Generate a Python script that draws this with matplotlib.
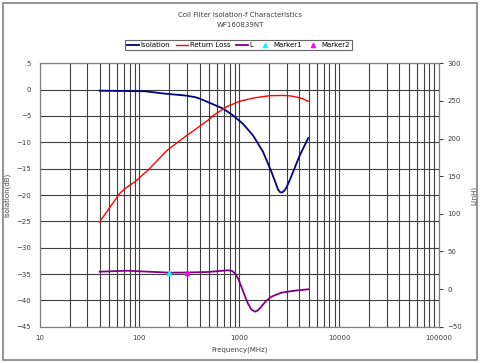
import matplotlib
matplotlib.use('Agg')
import matplotlib.pyplot as plt
from matplotlib.patches import Rectangle
from matplotlib.ticker import NullFormatter

# 周波数 (MHz) と各曲線の値
iso_f = [40, 113, 180, 285, 358, 402, 483, 690, 867, 1091, 1374, 1730, 2100,
         2300, 2450, 2580, 2700, 2850, 2965, 3200, 3460, 4030, 4900]
iso_db = [-0.2, -0.3, -0.76, -1.1, -1.4, -1.7, -2.35, -3.6, -4.9, -6.5, -8.7,
          -11.8, -15.6, -17.6, -19.0, -19.5, -19.5, -19.1, -18.6, -17.2, -15.6,
          -12.5, -9.2]

rl_f = [40, 48.3, 63.6, 71.6, 90, 122, 190, 270, 372, 487, 550, 740, 1010,
        1374, 2010, 2730, 3300, 3710, 4300, 4900]
rl_db = [-25.1, -22.9, -19.7, -18.8, -17.5, -15.3, -11.5, -9.3, -7.4, -5.8,
         -4.9, -3.3, -2.2, -1.6, -1.15, -1.1, -1.2, -1.4, -1.7, -2.2]

l_f = [40, 75, 200, 300, 487, 773, 850, 920, 980, 1050, 1130, 1220, 1320,
       1430, 1530, 1660, 1850, 2100, 2640, 3590, 4900]
l_nh = [23.1, 24.4, 21.8, 22.0, 22.7, 25.0, 24.0, 20.0, 13.0, 3.2, -8.0,
        -19.0, -27.0, -30.0, -28.5, -23.4, -16.0, -10.1, -4.8, -2.1, -0.3]

marker1 = (200, 21.8)
marker2 = (300, 22.0)

fs = 5
fig = plt.figure(figsize=(4.8, 3.63), dpi=100)
fig.patches.append(Rectangle((0.006, 0.008), 0.988, 0.984, transform=fig.transFigure,
                             fill=False, edgecolor='#808080', linewidth=1.2))

ax = fig.add_axes([0.0823, 0.100, 0.8323, 0.7256])
ax.set_xscale('log')
ax.set_xlim(10, 100000)
ax.set_ylim(-45, 5)
ax.set_yticks(range(-45, 6, 5))
ax.grid(which='both', axis='x', color='#404040', linewidth=0.8)
ax.grid(which='major', axis='y', color='#404040', linewidth=0.8)
ax.tick_params(which='both', labelsize=fs, length=0, colors='#404040', pad=6)
ax.tick_params(axis='x', which='minor', length=0)
ax.xaxis.set_minor_formatter(NullFormatter())
ax.set_xticks([10, 100, 1000, 10000, 100000])
ax.set_xticklabels(['10', '100', '1000', '10000', '100000'])
for s in ax.spines.values():
    s.set_color('#808080')

l1, = ax.plot(iso_f, iso_db, color='#000080', linewidth=1.3, label='Isolation')
l2, = ax.plot(rl_f, rl_db, color='red', linewidth=1.0, label='Return Loss')

ax2 = ax.twinx()
ax2.set_ylim(-50, 300)
ax2.set_yticks(range(-50, 301, 50))
ax2.tick_params(labelsize=fs, length=3, colors='#404040', pad=3)
for s in ax2.spines.values():
    s.set_color('#808080')
l3, = ax2.plot(l_f, l_nh, color='#800080', linewidth=1.3, label='L')
m1, = ax2.plot([marker1[0]], [marker1[1]], '^', color='cyan', markersize=3,
               linestyle='none', label='Marker1')
m2, = ax2.plot([marker2[0]], [marker2[1]], '^', color='magenta', markersize=3,
               linestyle='none', label='Marker2')

ax.set_xlabel('Frequency(MHz)', fontsize=fs, color='#404040', labelpad=4)
ax.set_ylabel('Isolation(dB)', fontsize=fs, color='#404040', labelpad=4)
ax2.set_ylabel('L(nH)', fontsize=fs, color='#404040', labelpad=6)

fig.text(0.5, 0.952, 'Coil Filter Isolation-f Characteristics', ha='center',
         fontsize=fs, color='#404040')
fig.text(0.5, 0.925, 'WF160839NT', ha='center', fontsize=fs, color='#404040')

leg = fig.legend([l1, l2, l3, m1, m2], ['Isolation', 'Return Loss', 'L', 'Marker1', 'Marker2'],
                 loc='center', bbox_to_anchor=(0.496, 0.875), ncol=5, fontsize=fs,
                 frameon=True, fancybox=False, handlelength=1.8, handletextpad=0.2,
                 columnspacing=0.8, borderpad=0.3)
leg.get_frame().set_edgecolor('#404040')
leg.get_frame().set_linewidth(0.8)

fig.savefig('out.png', dpi=100)
